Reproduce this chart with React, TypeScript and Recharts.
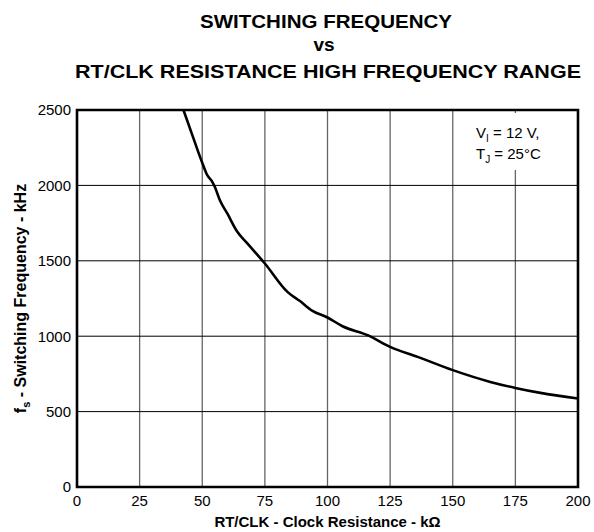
import React from 'react';
import { LineChart, Line, XAxis, YAxis, CartesianGrid, ReferenceArea } from 'recharts';

const resistanceK = [42.5, 46, 50, 52, 54, 55, 57, 60, 64, 68, 75, 84, 89, 94, 100, 106, 116, 125, 136, 150, 165, 175, 185, 200];
const frequencyKHz = [2500, 2335, 2150, 2068, 2024, 1991, 1903, 1814, 1692, 1615, 1482, 1294, 1233, 1168, 1124, 1066, 1007, 929, 863, 775, 697, 657, 624, 587];
const xTicks = [0, 25, 50, 75, 100, 125, 150, 175, 200];
const yTicks = [0, 500, 1000, 1500, 2000, 2500];
const titleLines = ['SWITCHING FREQUENCY', 'vs', 'RT/CLK RESISTANCE HIGH FREQUENCY RANGE'];

const data = resistanceK.map((r, i) => ({ r, f: frequencyKHz[i] }));

const FONT = '"Liberation Sans", Arial, Helvetica, sans-serif';

const renderYLabel = (props: any) => {
  const vb = props.viewBox || { x: 0, y: 110, width: 77, height: 377 };
  const cx = vb.x + 26;
  const cy = vb.y + vb.height / 2;
  return (
    <text
      transform={`translate(${cx},${cy}) rotate(-90)`}
      textAnchor="middle"
      fontFamily={FONT}
      fontWeight="bold"
      fontSize={16}
      fill="#000"
    >
      <tspan>f</tspan>
      <tspan fontSize={11} dy={4}>s</tspan>
      <tspan dy={-4}> - Switching Frequency - kHz</tspan>
    </text>
  );
};

const renderXLabel = (props: any) => {
  const vb = props.viewBox || { x: 77, y: 487, width: 501, height: 45 };
  return (
    <text
      x={vb.x + vb.width / 2}
      y={vb.y + 40}
      textAnchor="middle"
      fontFamily={FONT}
      fontWeight="bold"
      fontSize={15}
      fill="#000"
    >
      RT/CLK - Clock Resistance - kΩ
    </text>
  );
};

export default function App() {
  return (
    <div style={{ position: 'absolute', left: 0, top: 0, width: 594, height: 532, background: '#fff' }}>
      <LineChart
        width={594}
        height={532}
        data={data}
        margin={{ top: 110, right: 16, bottom: 0, left: 0 }}
      >
        <CartesianGrid horizontal={false} vertical={true} stroke="#666" strokeWidth={1.3} />
        <CartesianGrid horizontal={true} vertical={false} stroke="#000" strokeWidth={1} />
        <XAxis
          dataKey="r"
          type="number"
          domain={[0, 200]}
          ticks={xTicks}
          interval={0}
          height={45}
          tickLine={false}
          tickSize={0}
          tickMargin={8}
          axisLine={false}
          tick={{ fill: '#000', fontSize: 15, fontFamily: FONT }}
          label={{ content: renderXLabel }}
        />
        <YAxis
          type="number"
          domain={[0, 2500]}
          ticks={yTicks}
          interval={0}
          width={77}
          tickLine={false}
          tickSize={0}
          tickMargin={6}
          axisLine={false}
          tick={{ fill: '#000', fontSize: 15, fontFamily: FONT }}
          label={{ content: renderYLabel }}
        />
        <Line
          dataKey="f"
          type="monotone"
          stroke="#000"
          strokeWidth={2.6}
          dot={false}
          isAnimationActive={false}
        />
        <ReferenceArea x1={0} x2={200} y1={0} y2={2500} fill="none" fillOpacity={0} stroke="#000" strokeWidth={2.6} ifOverflow="visible" />
      </LineChart>
      <svg
        width={594}
        height={532}
        style={{ position: 'absolute', left: 0, top: 0, pointerEvents: 'none' }}
      >
        <g fontFamily={FONT} fontWeight="bold" fill="#000" textAnchor="middle">
          <text x={326} y={28} fontSize={19} textLength={252} lengthAdjust="spacingAndGlyphs">{titleLines[0]}</text>
          <text x={324} y={51} fontSize={19}>{titleLines[1]}</text>
          <text x={328} y={78} fontSize={19} textLength={506} lengthAdjust="spacingAndGlyphs">{titleLines[2]}</text>
        </g>
        <rect x={470} y={113} width={92} height={57} fill="#fff" />
        <g fontFamily={FONT} fontSize={15} fill="#000">
          <text x={476} y={138}>
            <tspan>V</tspan>
            <tspan fontSize={10} dy={4}>I</tspan>
            <tspan dy={-4}> = 12 V,</tspan>
          </text>
          <text x={476} y={159}>
            <tspan>T</tspan>
            <tspan fontSize={10} dy={4}>J</tspan>
            <tspan dy={-4}> = 25°C</tspan>
          </text>
        </g>
      </svg>
    </div>
  );
}
